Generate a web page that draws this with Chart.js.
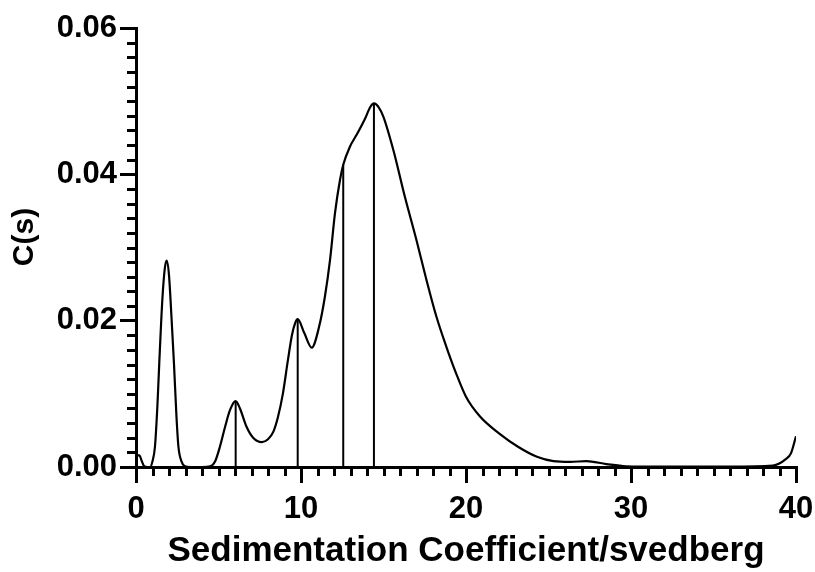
<!DOCTYPE html>
<html lang="en">
<head>
  <meta charset="UTF-8" />
  <title>Sedimentation Coefficient Distribution</title>
  <style>
    body {
      margin: 0;
      background: #fff;
    }
    #wrap {
      width: 815px;
      height: 572px;
    }
  </style>
</head>
<body>
  <div id="wrap">
    <canvas id="cs" width="815" height="572"></canvas>
  </div>

  <script src="https://cdn.jsdelivr.net/npm/chart.js"></script>
  <script>
    // c(s) distribution, s in svedberg
    const sValues = [
      0, 0.2, 0.35, 0.5, 0.7, 0.85, 1.0, 1.15, 1.3, 1.41, 1.6, 1.75, 1.86, 2.0, 2.15, 2.3, 2.45, 2.57, 2.75, 2.97,
      3.3, 4.0, 4.5, 4.8, 5.09, 5.4, 5.7, 6.04, 6.3, 6.7, 7.1, 7.62, 8.0, 8.32, 8.6, 8.9, 9.2, 9.45, 9.65, 9.8,
      10.2, 10.65, 11.1, 11.45, 11.76, 12.06, 12.36, 12.56, 12.97, 13.37, 13.88, 14.2, 14.42, 14.7, 14.99,
      15.6, 16.3, 17.0, 17.6, 18.2, 18.8, 19.4, 20.0, 20.85, 22.0, 23.2, 24.3, 25.3, 26.3, 27.3, 28.5, 29.7,
      32, 36, 38.6, 39.4, 39.7, 40
    ];
    const csValues = [
      0.0016, 0.0016, 0.0008, 0.0001, 0, 0, 0.0008, 0.0028, 0.0085, 0.0142, 0.0230, 0.0272, 0.0282, 0.0262, 0.0205, 0.0142, 0.0070, 0.0028, 0.0008, 0.0001,
      0, 0, 0.0001, 0.0008, 0.0028, 0.0055, 0.0078, 0.0090, 0.0080, 0.0055, 0.0040, 0.0034, 0.0038, 0.0048, 0.0068, 0.0100, 0.0145, 0.0180, 0.0197, 0.0202,
      0.0183, 0.0163, 0.0192, 0.0233, 0.0283, 0.0347, 0.0392, 0.0413, 0.0438, 0.0454, 0.0476, 0.0492, 0.0497, 0.0492, 0.0479,
      0.0433, 0.0369, 0.0310, 0.0256, 0.0206, 0.0165, 0.0128, 0.0096, 0.0069, 0.0046, 0.0027, 0.0014, 0.0008, 0.0007, 0.0008, 0.0004, 0.0001,
      0.00005, 0.00005, 0.0002, 0.0011, 0.0019, 0.0042
    ];

    // peak positions marked with drop lines
    const peakS = [6.04, 9.8, 12.56, 14.42];
    const peakCs = [0.0090, 0.0202, 0.0413, 0.0497];

    const xTicks = [0, 10, 20, 30, 40];
    const yTicks = [0, 0.02, 0.04, 0.06];

    const FONT = "'Liberation Sans', Arial, sans-serif";

    const curve = sValues.map((s, i) => ({ x: s, y: csValues[i] }));

    const dropSets = peakS.map((s, i) => ({
      data: [{ x: s, y: 0 }, { x: s, y: peakCs[i] }],
      borderColor: '#000',
      borderWidth: 2,
      pointRadius: 0,
      tension: 0
    }));

    // short ticks between the labelled ones, plus the rotated y title
    const axisExtras = {
      id: 'axisExtras',
      afterDraw(chart) {
        const { ctx, scales: { x, y } } = chart;
        ctx.save();
        ctx.strokeStyle = '#000';
        ctx.lineWidth = 3;
        ctx.beginPath();
        for (let v = 1; v < 40; v++) {
          if (v % 10 === 0) continue;
          const px = Math.round(x.getPixelForValue(v)) + 0.5;
          ctx.moveTo(px, y.bottom);
          ctx.lineTo(px, y.bottom + 9);
        }
        for (let k = 1; k < 30; k++) {
          if (k % 10 === 0) continue;
          const py = Math.round(y.getPixelForValue(k * 0.002)) + 0.5;
          ctx.moveTo(x.left, py);
          ctx.lineTo(x.left - 9, py);
        }
        ctx.stroke();

        ctx.translate(25, 237);
        ctx.rotate(-Math.PI / 2);
        ctx.fillStyle = '#000';
        ctx.font = 'bold 30px ' + FONT;
        ctx.textAlign = 'center';
        ctx.textBaseline = 'middle';
        ctx.fillText('C(s)', 0, 0);
        ctx.restore();
      }
    };

    new Chart(document.getElementById('cs'), {
      type: 'line',
      data: {
        datasets: [{
          data: curve,
          borderColor: '#000',
          borderWidth: 2.2,
          pointRadius: 0,
          cubicInterpolationMode: 'monotone'
        }, ...dropSets]
      },
      options: {
        responsive: false,
        animation: false,
        layout: { padding: { left: 0, top: 28, right: 19, bottom: 0 } },
        plugins: {
          legend: { display: false },
          tooltip: { enabled: false }
        },
        scales: {
          x: {
            type: 'linear',
            min: 0,
            max: 40,
            afterFit(scale) {
              scale.height = 105;
              scale.paddingLeft = 0;
              scale.paddingRight = 0;
            },
            afterBuildTicks(scale) { scale.ticks = xTicks.map(v => ({ value: v })); },
            border: { display: true, color: '#000', width: 3 },
            grid: { drawOnChartArea: false, drawTicks: true, tickLength: 16, color: '#000', lineWidth: 3 },
            ticks: {
              padding: 8,
              color: '#000',
              maxRotation: 0,
              font: { family: FONT, size: 31, weight: 'bold' }
            },
            title: {
              display: true,
              text: 'Sedimentation Coefficient/svedberg',
              color: '#000',
              padding: { top: 0, bottom: 0 },
              font: { family: FONT, size: 35, weight: 'bold' }
            }
          },
          y: {
            type: 'linear',
            min: 0,
            max: 0.06,
            afterFit(scale) {
              scale.width = 136;
              scale.paddingTop = 0;
              scale.paddingBottom = 0;
            },
            afterBuildTicks(scale) { scale.ticks = yTicks.map(v => ({ value: v })); },
            border: { display: true, color: '#000', width: 3 },
            grid: { drawOnChartArea: false, drawTicks: true, tickLength: 16, color: '#000', lineWidth: 3 },
            ticks: {
              padding: 3,
              color: '#000',
              callback: v => v.toFixed(2),
              font: { family: FONT, size: 31, weight: 'bold' }
            }
          }
        }
      },
      plugins: [axisExtras]
    });
  </script>
</body>
</html>
